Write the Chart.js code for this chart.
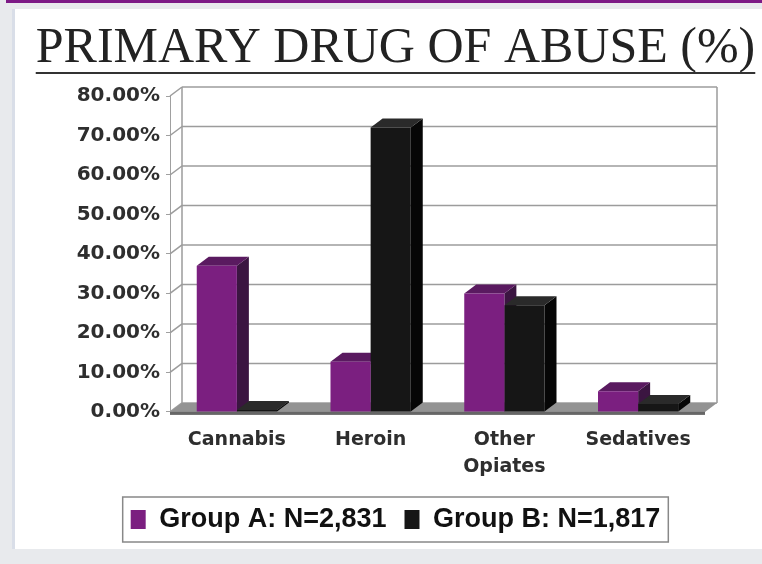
<!DOCTYPE html>
<html>
<head>
<meta charset="utf-8">
<script src="https://cdn.jsdelivr.net/npm/chart.js@4"></script>
<style>
  html, body { margin: 0; padding: 0; }
  body { width: 762px; height: 564px; background: #e8eaed; position: relative; overflow: hidden; }
  .topline { position: absolute; left: 6px; top: 0; width: 756px; height: 3px; background: #7d1a86; }
  .panel { position: absolute; left: 12px; top: 9px; width: 747px; height: 540px; background: #fff; border-left: 3px solid #d9dee8; }
  canvas { display: block; }
</style>
</head>
<body>
<div class="topline"></div>
<div class="panel"><canvas id="drugChart" width="747" height="540"></canvas></div>
<script>
const chartTitle = 'PRIMARY DRUG OF ABUSE (%)';
const categories = ['Cannabis', 'Heroin', ['Other', 'Opiates'], 'Sedatives'];
const seriesNames = ['Group A: N=2,831', 'Group B: N=1,817'];
const groupA = [37, 12.7, 30, 5.2];
const groupB = [0.5, 72, 27, 2];
const yMin = 0, yMax = 80, yStep = 10;

const DX = 12, DY = 9;
const faceColors = ['#7b1f80', '#161616'];
const topColors = ['#5a1a60', '#2a2a2a'];
const sideColors = ['#3b1541', '#060606'];

// back wall, side wall, floor, then top and side faces of the bars
// (front faces are drawn by Chart.js afterwards, so a bar hides its left neighbour's side)
const wallPlugin = {
    id: 'wall',
    beforeDatasetsDraw(chart) {
        const { ctx, chartArea: a, scales: { y } } = chart;
        const y0 = y.getPixelForValue(0);
        const yTop = y.getPixelForValue(yMax);
        ctx.save();
        ctx.strokeStyle = '#9c9c9c';
        ctx.lineWidth = 1.5;
        y.ticks.forEach(t => {
            const py = y.getPixelForValue(t.value);
            ctx.beginPath();
            ctx.moveTo(a.left + DX, py - DY);
            ctx.lineTo(a.right + DX, py - DY);
            ctx.stroke();
            ctx.beginPath();
            ctx.moveTo(a.left, py);
            ctx.lineTo(a.left + DX, py - DY);
            ctx.stroke();
        });
        ctx.beginPath();
        ctx.moveTo(a.left + DX, yTop - DY);
        ctx.lineTo(a.left + DX, y0 - DY);
        ctx.moveTo(a.right + DX, yTop - DY);
        ctx.lineTo(a.right + DX, y0 - DY);
        ctx.stroke();

        // floor
        ctx.fillStyle = '#939393';
        ctx.beginPath();
        ctx.moveTo(a.left, y0);
        ctx.lineTo(a.right, y0);
        ctx.lineTo(a.right + DX, y0 - DY);
        ctx.lineTo(a.left + DX, y0 - DY);
        ctx.closePath();
        ctx.fill();
        ctx.fillStyle = '#666';
        ctx.fillRect(a.left, y0, a.right - a.left, 3);

        chart.data.datasets.forEach((ds, i) => {
            chart.getDatasetMeta(i).data.forEach(bar => {
                const { x, y: top, base, width } = bar.getProps(['x', 'y', 'base', 'width'], true);
                const L = x - width / 2, R = x + width / 2;
                ctx.fillStyle = sideColors[i];
                ctx.beginPath();
                ctx.moveTo(R, top);
                ctx.lineTo(R + DX, top - DY);
                ctx.lineTo(R + DX, base - DY);
                ctx.lineTo(R, base);
                ctx.closePath();
                ctx.fill();
                ctx.fillStyle = topColors[i];
                ctx.beginPath();
                ctx.moveTo(L, top);
                ctx.lineTo(L + DX, top - DY);
                ctx.lineTo(R + DX, top - DY);
                ctx.lineTo(R, top);
                ctx.closePath();
                ctx.fill();
            });
        });
        ctx.restore();
    }
};

// underline under the title and the frame round the legend
const decorPlugin = {
    id: 'decor',
    afterDraw(chart) {
        const { ctx } = chart;
        const tb = chart.titleBlock;
        const f = tb.options.font;
        ctx.save();
        ctx.font = f.size + 'px ' + f.family;
        const w = ctx.measureText(chartTitle).width;
        const cx = (tb.left + tb.right) / 2;
        const baseY = tb.top + tb.options.padding.top + f.size * f.lineHeight / 2 + f.size * 0.33;
        ctx.strokeStyle = '#333';
        ctx.lineWidth = 2;
        ctx.beginPath();
        ctx.moveTo(cx - w / 2, baseY + 8);
        ctx.lineTo(cx + w / 2, baseY + 8);
        ctx.stroke();

        const hb = chart.legend.legendHitBoxes;
        if (hb.length) {
            const last = hb[hb.length - 1];
            const l = hb[0].left - 8, r = last.left + last.width + 8;
            const t = hb[0].top - 9, h = hb[0].height + 18;
            ctx.strokeStyle = '#888';
            ctx.lineWidth = 1.5;
            ctx.strokeRect(l, t, r - l, h);
        }
        ctx.restore();
    }
};

const ctx = document.getElementById('drugChart').getContext('2d');
new Chart(ctx, {
    type: 'bar',
    data: {
        labels: categories,
        datasets: [{
            label: seriesNames[0],
            data: groupA,
            backgroundColor: faceColors[0]
        }, {
            label: seriesNames[1],
            data: groupB,
            backgroundColor: faceColors[1]
        }]
    },
    options: {
        responsive: false,
        animation: false,
        categoryPercentage: 0.6,
        barPercentage: 1.0,
        layout: { padding: { top: 12, left: 14, right: 0, bottom: 6 } },
        plugins: {
            title: {
                display: true,
                text: chartTitle,
                color: '#222',
                font: { family: '"Liberation Serif"', size: 50, weight: 'normal', lineHeight: 1.1 },
                padding: { top: 0, bottom: 20 }
            },
            legend: {
                position: 'bottom',
                labels: {
                    color: '#111',
                    font: { family: '"Liberation Sans"', size: 27, weight: 'bold' },
                    boxWidth: 15,
                    boxHeight: 19,
                    padding: 18
                }
            },
            tooltip: { enabled: false }
        },
        scales: {
            x: {
                grid: { display: false },
                border: { display: false },
                ticks: {
                    color: '#2e2e2e',
                    font: { family: '"DejaVu Sans"', size: 19, weight: 'bold', lineHeight: 1.45 },
                    padding: 6,
                    maxRotation: 0
                },
                afterFit: s => { s.height = s.height + 1; }
            },
            y: {
                min: yMin,
                max: yMax,
                border: { display: true, color: '#a0a0a0' },
                grid: { drawOnChartArea: false, drawTicks: true, tickLength: 4, color: '#a0a0a0' },
                ticks: {
                    stepSize: yStep,
                    color: '#2e2e2e',
                    padding: 6,
                    font: { family: '"DejaVu Sans"', size: 20, weight: 'bold' },
                    callback: v => v.toFixed(2) + '%'
                },
                afterFit: s => { s.width = 141; }
            },
            y2: {
                position: 'right',
                grid: { display: false },
                border: { display: false },
                ticks: { display: false },
                afterFit: s => { s.width = 57; }
            }
        }
    },
    plugins: [wallPlugin, decorPlugin]
});
</script>
</body>
</html>
